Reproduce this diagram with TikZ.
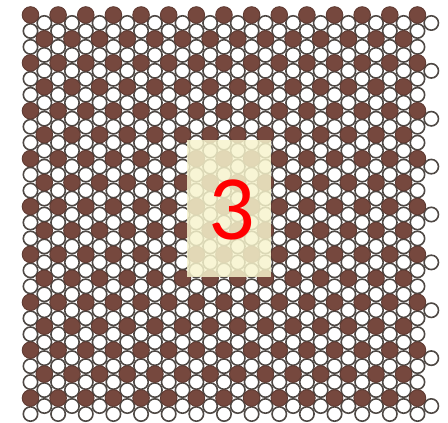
\documentclass[tikz,border=0pt]{standalone}
\usepackage{fontspec}
\setmainfont{Carlito}
\definecolor{bead}{RGB}{118,72,62}
\definecolor{rim}{RGB}{78,72,68}
\definecolor{veil}{RGB}{247,244,205}
\begin{document}
\begin{tikzpicture}[x=1pt,y=-1pt,
  whitebead/.style={draw=rim,fill=white,line width=1.6pt},
  brownbead/.style={draw=bead!80!black,fill=bead,line width=0.9pt},
  labelbox/.style={fill=veil,opacity=0.84},
  digit/.style={text=red,font=\fontsize{92}{92}\selectfont,inner sep=0pt}]
\useasboundingbox (0,0) rectangle (448,423);
\fill[white] (0,0) rectangle (448,423);
% white beads first
\foreach \r in {0,...,50}{
  \foreach \k in {0,...,29}{
    \pgfmathtruncatemacro{\skipit}{ifthenelse(mod(\r+\k,2)==1,1,ifthenelse(\k==29,ifthenelse(mod(\r,6)==1,0,1),0))}
    \pgfmathtruncatemacro{\isbrown}{mod(\r,3)==0}
    \ifnum\skipit=0
      \ifnum\isbrown=0
        \draw[whitebead] ({30.5+\k*13.82},{15+\r*7.98}) circle (7.2);
      \fi
    \fi
  }
}
% brown beads on top
\foreach \r in {0,3,...,48}{
  \foreach \k in {0,...,28}{
    \pgfmathtruncatemacro{\skipit}{mod(\r+\k,2)}
    \ifnum\skipit=0
      \draw[brownbead] ({30.5+\k*13.82},{15+\r*7.98}) circle (8.3);
    \fi
  }
}
\fill[labelbox] (187,140) rectangle (271,277);
\node[digit] (three) at (232,210) {3};
\end{tikzpicture}
\end{document}
